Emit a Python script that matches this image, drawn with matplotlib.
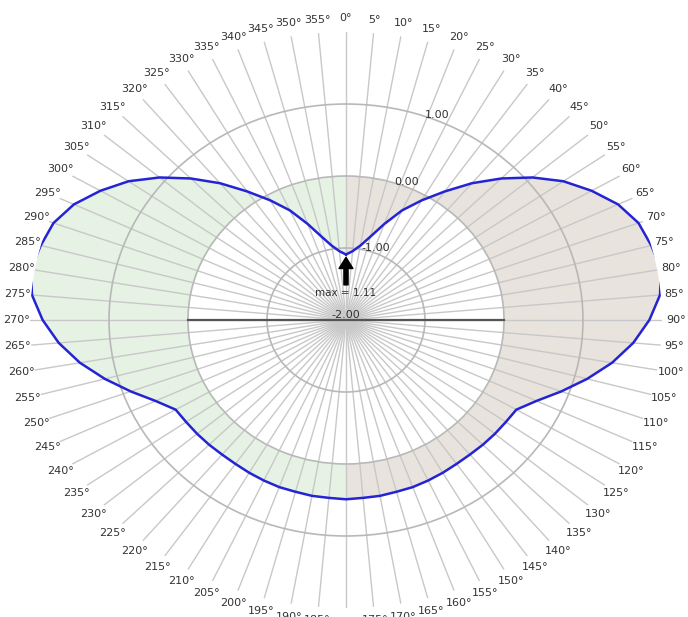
import numpy as np
import matplotlib.pyplot as plt
from matplotlib.ticker import FormatStrFormatter

# --- data: response value every 5 degrees (0..355) ---
angles_deg = list(range(0, 360, 5))
r_values = [
    -1.09, -1.04, -0.95, -0.80, -0.58, -0.32, -0.08, 0.18, 0.48, 0.78,
    1.08, 1.36, 1.59, 1.80, 1.94, 2.00, 2.05, 1.99, 1.84, 1.65,
    1.42, 1.16, 0.90, 0.66, 0.49, 0.47, 0.46, 0.45, 0.44, 0.44,
    0.45, 0.46, 0.47, 0.47, 0.48, 0.48, 0.49,
    0.48, 0.48, 0.47, 0.47, 0.46, 0.45, 0.44, 0.44, 0.45, 0.46,
    0.47, 0.49, 0.66, 0.90, 1.16, 1.42, 1.65, 1.84, 1.99, 2.05,
    2.00, 1.94, 1.80, 1.59, 1.36, 1.08, 0.78, 0.48, 0.18, -0.08,
    -0.32, -0.58, -0.80, -0.95, -1.04,
]
r_ticks = [-2, -1, 0, 1]
max_label = 'max = 1.11'

theta = np.deg2rad(np.array(angles_deg + [360]))
r = np.array(r_values + [r_values[0]])

fig = plt.figure(figsize=(6.88, 6.17), dpi=100)
ax = fig.add_axes([0.0436, 0.0146, 0.9186, 0.9335], projection='polar')
ax.set_aspect('auto')
ax.set_theta_zero_location('N')
ax.set_theta_direction(-1)

# fills between r=0 and the curve, split at 180 deg
right = theta <= np.pi + 1e-9
left = theta >= np.pi - 1e-9
ax.fill_between(theta[right], 0, r[right], color='#e8e3dd', lw=0, zorder=0.5)
ax.fill_between(theta[left], 0, r[left], color='#e6f2e4', lw=0, zorder=0.5)

ax.plot(theta, r, color='#2424d4', lw=1.8, zorder=3)

# horizontal line through the centre at r = 0
ax.plot([np.pi / 2, 3 * np.pi / 2], [0, 0], color='#555555', lw=1.6, zorder=2.5)

ax.annotate(max_label, xy=(0, -1.13), xytext=(0, -1.62),
            ha='center', va='center', fontsize=7.5, color='#333333',
            arrowprops=dict(facecolor='black', edgecolor='black',
                            width=3, headwidth=10, headlength=8, shrink=0.0),
            zorder=4)

ax.set_ylim(-2, 2.0)
ax.set_yticks(r_ticks)
ax.yaxis.set_major_formatter(FormatStrFormatter('%.2f'))
ax.tick_params(axis='y', labelsize=8, labelcolor='#333333')
plt.setp(ax.yaxis.get_majorticklabels(), ha='center')

ax.set_thetagrids(angles_deg, labels=[f'{a}°' for a in angles_deg])
ax.tick_params(axis='x', labelsize=8, labelcolor='#333333', pad=-0.7)

ax.xaxis.grid(True, color='#c8c8c8', lw=1.0)
ax.yaxis.grid(True, color='#b8b8b8', lw=1.2)
ax.spines['polar'].set_visible(False)

fig.savefig('out.png', dpi=100)
